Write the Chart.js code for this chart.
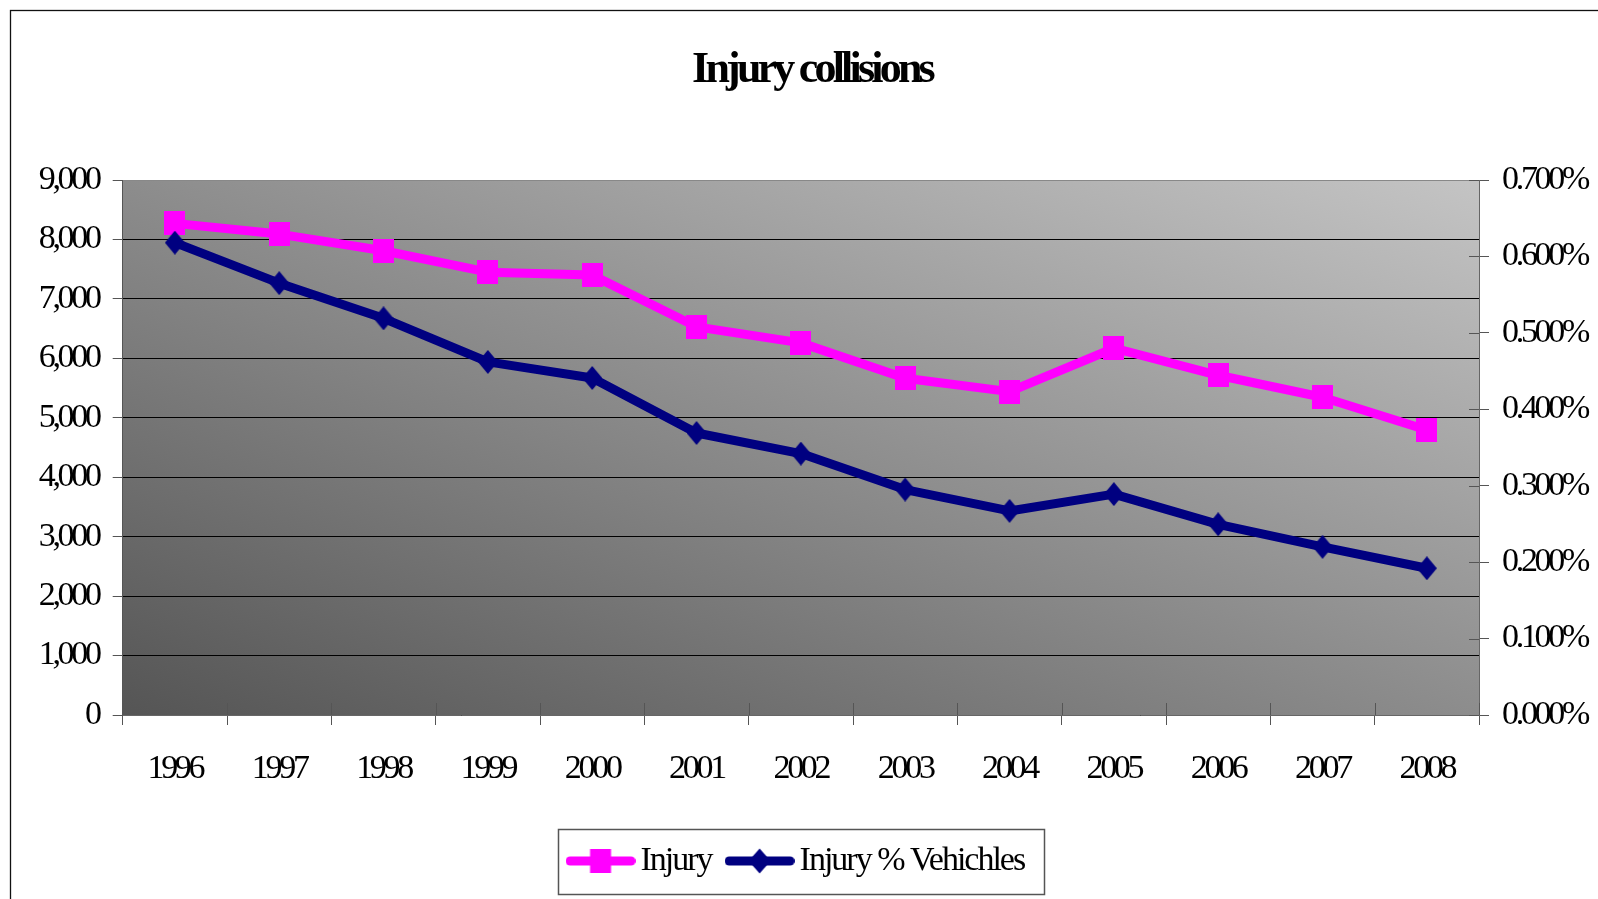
<!DOCTYPE html>
<html><head><meta charset="utf-8">
<script src="https://cdn.jsdelivr.net/npm/chart.js@4"></script>
<style>html,body{margin:0;padding:0;background:#fff;overflow:hidden}#wrap{width:1598px;height:899px}</style>
</head><body><div id="wrap"><canvas id="c" width="1598" height="899"></canvas></div>
<script>
// ---- data ----
const years = ['1996','1997','1998','1999','2000','2001','2002','2003','2004','2005','2006','2007','2008'];
const injury = [8270, 8090, 7810, 7450, 7400, 6530, 6260, 5665, 5440, 6170, 5715, 5345, 4795];
const injuryPct = [0.618, 0.565, 0.519, 0.462, 0.441, 0.369, 0.342, 0.295, 0.267, 0.289, 0.2495, 0.220, 0.192];
const seriesNames = ['Injury', 'Injury % Vehichles'];
const leftAxis = {min: 0, max: 9000, step: 1000};
const rightAxis = {min: 0, max: 0.7, step: 0.1};

const MAGENTA = '#FF00FF', NAVY = '#000080';
const FONT = 'Liberation Serif';
const LS_TICKS = '-3.3px', LS_TITLE = '-3.8px', LS_LEGEND = '-2px';

function mk(w, h, fn) { const cv = document.createElement('canvas'); cv.width = w; cv.height = h; fn(cv.getContext('2d')); return cv; }
function square(g, cx, cy, w, h) { g.fillStyle = MAGENTA; g.fillRect(cx - w/2, cy - h/2, w, h); }
function diamond(g, cx, cy, w, h) { g.fillStyle = NAVY; g.beginPath(); g.moveTo(cx, cy - h/2); g.lineTo(cx + w/2, cy); g.lineTo(cx, cy + h/2); g.lineTo(cx - w/2, cy); g.closePath(); g.fill(); }
const sqImg = mk(21, 24, g => square(g, 10.5, 12, 21, 24));
const diaImg = mk(20, 24, g => diamond(g, 10, 12, 20, 24));
function legImg(color, marker) {
  return mk(70, 26, g => {
    g.strokeStyle = color; g.lineWidth = 9; g.lineCap = 'round';
    g.beginPath(); g.moveTo(4.5, 13); g.lineTo(65.5, 13); g.stroke();
    marker(g);
  });
}
const legImgs = [legImg(MAGENTA, g => square(g, 35, 13, 21, 24)), legImg(NAVY, g => diamond(g, 35, 13, 22, 25))];

function wrapSpacing(obj, ls, names) {
  if (!obj || obj.__wrapped) return;
  obj.__wrapped = true;
  names.forEach(n => {
    const orig = obj[n];
    obj[n] = function () {
      const ctx = this.ctx;
      const prev = ctx.letterSpacing;
      ctx.letterSpacing = ls;
      try { return orig.apply(this, arguments); } finally { ctx.letterSpacing = prev; }
    };
  });
}
const spacing = {
  id: 'spacing',
  beforeUpdate(c) { c.ctx.letterSpacing = LS_TICKS; },
  beforeLayout(c) {
    c.ctx.letterSpacing = LS_TICKS;
    wrapSpacing(c.legend, LS_LEGEND, ['fit', 'draw']);
    wrapSpacing(c.titleBlock, LS_TITLE, ['fit', 'draw']);
  },
  beforeDraw(c) { c.ctx.letterSpacing = LS_TICKS; }
};
const bg = {
  id: 'bg',
  beforeDraw(c) {
    const ctx = c.ctx, a = c.chartArea;
    ctx.save();
    ctx.fillStyle = '#fff'; ctx.fillRect(0, 0, c.width, c.height);
    ctx.strokeStyle = '#111'; ctx.lineWidth = 1.3; ctx.strokeRect(10.5, 10.5, c.width + 20, c.height + 20);
    const w = a.right - a.left, h = a.bottom - a.top, L = Math.hypot(w, h);
    const cx = (a.left + a.right) / 2, cy = (a.top + a.bottom) / 2;
    const ux = h / L, uy = -w / L, d = w * h / L;
    const g = ctx.createLinearGradient(cx - ux * d, cy - uy * d, cx + ux * d, cy + uy * d);
    g.addColorStop(0, '#555555'); g.addColorStop(1, '#c4c4c4');
    ctx.fillStyle = g; ctx.fillRect(a.left, a.top, w, h);
    ctx.restore();
  }
};
const innerTicks = {
  id: 'innerTicks',
  beforeDatasetsDraw(c) {
    const ctx = c.ctx, a = c.chartArea, x = c.scales.x, y1 = c.scales.y1;
    ctx.save(); ctx.strokeStyle = '#555'; ctx.lineWidth = 1; ctx.beginPath();
    for (let i = 0; i <= years.length; i++) {
      const px = Math.round(x.getPixelForValue(i - 0.5)) + 0.5;
      ctx.moveTo(px, a.bottom - 12); ctx.lineTo(px, a.bottom);
    }
    y1.ticks.forEach(t => {
      const py = Math.round(y1.getPixelForValue(t.value)) + 0.5;
      ctx.moveTo(a.right - 10, py); ctx.lineTo(a.right, py);
    });
    ctx.stroke(); ctx.restore();
  }
};
const legendFrame = {
  id: 'legendFrame',
  afterDraw(c) {
    const hb = c.legend && c.legend.legendHitBoxes; if (!hb || !hb.length) return;
    const ctx = c.ctx;
    const l = hb[0].left - 20, last = hb[hb.length - 1], r = last.left + last.width + 19;
    const cy = hb[0].top + hb[0].height / 2;
    ctx.save(); ctx.strokeStyle = '#555'; ctx.lineWidth = 1.5;
    ctx.strokeRect(Math.round(l) + 0.5, Math.round(cy - 32) + 0.5, Math.round(r - l), 65);
    ctx.restore();
  }
};

const tickFont = {family: FONT, size: 34, lineHeight: 1.2};

new Chart(document.getElementById('c'), {
  type: 'line',
  data: {
    labels: years,
    datasets: [
      {label: seriesNames[0], data: injury, yAxisID: 'y', order: 1, borderColor: MAGENTA, backgroundColor: MAGENTA,
       borderWidth: 9, tension: 0, pointStyle: sqImg, pointRadius: 12, borderJoinStyle: 'round', borderCapStyle: 'round'},
      {label: seriesNames[1], data: injuryPct, yAxisID: 'y1', order: 0, borderColor: NAVY, backgroundColor: NAVY,
       borderWidth: 9, tension: 0, pointStyle: diaImg, pointRadius: 12, borderJoinStyle: 'round', borderCapStyle: 'round'}
    ]
  },
  options: {
    responsive: false, devicePixelRatio: 1, animation: false,
    layout: {padding: {left: 26, right: 0, top: 0, bottom: 11}},
    plugins: {
      tooltip: {enabled: false},
      title: {display: true, text: 'Injury collisions', color: '#000',
        font: {family: FONT, size: 44, weight: 'bold', lineHeight: 1.2}, padding: {top: 44.6, bottom: 82.6}},
      legend: {
        position: 'bottom', fullSize: false,
        labels: {
          usePointStyle: true, pointStyleWidth: 46, padding: 25, color: '#000',
          font: {family: FONT, size: 34},
          generateLabels(chart) {
            const items = Chart.defaults.plugins.legend.labels.generateLabels(chart);
            items.sort((p, q) => p.datasetIndex - q.datasetIndex);
            items.forEach(it => { it.pointStyle = legImgs[it.datasetIndex]; });
            return items;
          }
        }
      }
    },
    scales: {
      x: {
        type: 'category', offset: true,
        grid: {offset: true, drawOnChartArea: false, drawTicks: true, tickLength: 10, color: '#555', tickColor: '#555'},
        border: {display: true, color: '#666'},
        ticks: {font: tickFont, color: '#000', padding: 24, maxRotation: 0, autoSkip: false},
        afterFit(s) { s.height = 104; }
      },
      y: {
        position: 'left', min: leftAxis.min, max: leftAxis.max,
        ticks: {stepSize: leftAxis.step, font: tickFont, color: '#000', padding: 14,
          callback: v => v.toLocaleString('en-US')},
        grid: {color: ctx => (ctx.tick && ctx.tick.value === leftAxis.max) ? '#888' : '#000', lineWidth: 1, tickLength: 10, tickColor: '#555'},
        border: {display: true, color: '#555'},
        afterFit(s) { s.width = 96.7; }
      },
      y1: {
        position: 'right', min: rightAxis.min, max: rightAxis.max,
        ticks: {stepSize: rightAxis.step, font: tickFont, color: '#000', padding: 13,
          callback: v => v.toFixed(3) + '%'},
        grid: {drawOnChartArea: false, tickLength: 10, tickColor: '#555'},
        border: {display: true, color: '#666'},
        afterFit(s) { s.width = 119; }
      }
    }
  },
  plugins: [spacing, bg, innerTicks, legendFrame]
});
</script></body></html>
